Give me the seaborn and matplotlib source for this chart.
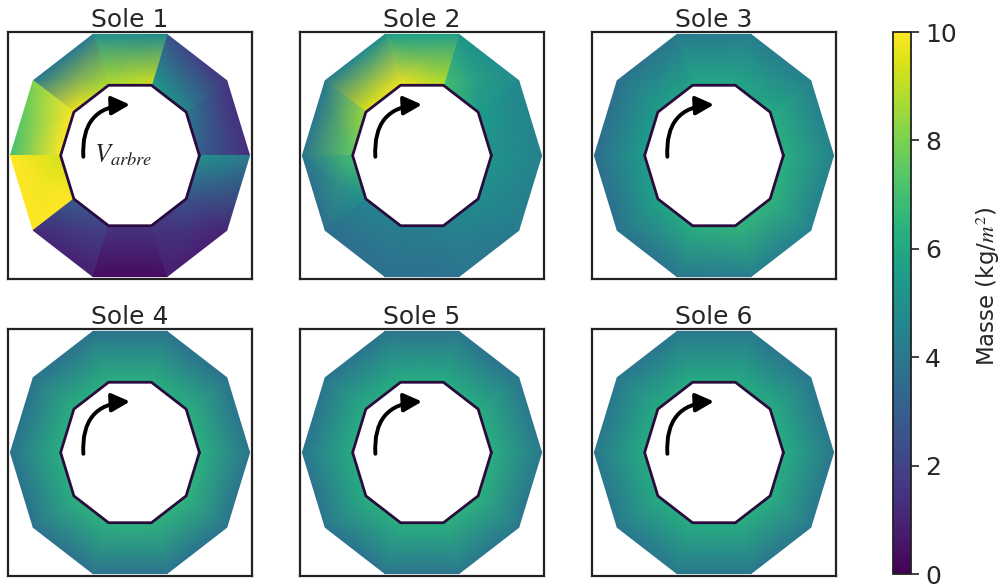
import numpy as np
import seaborn as sns
import matplotlib
matplotlib.use("Agg")
import matplotlib.pyplot as plt
from matplotlib.patches import FancyArrowPatch

# Mass (kg/m2) at the corners of each of the 10 ring segments.
# segment k spans 36k -> 36(k+1) degrees (CCW from the right vertex);
# each pair = (value at start angle, value at end angle)
sole1_inner = [(3.0, 4.0), (4.5, 5.5), (9.3, 8.8), (8.8, 9.8), (10, 10),
               (9.3, 10), (2.8, 2.0), (1.5, 1.5), (1.5, 2.5), (2.5, 5.0)]
sole1_outer = [(1.3, 1.5), (1.5, 2.5), (4.8, 5.0), (4.0, 4.0), (8.0, 7.0),
               (10, 10), (1.2, 0.8), (0.3, 0.3), (0.8, 1.0), (1.0, 4.2)]

sole2_inner = [(5.0, 5.5), (5.5, 7.0), (9.0, 9.8), (9.8, 9.5), (8.5, 7.5),
               (7.0, 5.0), (4.5, 4.3), (4.2, 4.3), (4.4, 4.8), (4.8, 5.2)]
sole2_outer = [(4.4, 4.6), (4.8, 5.2), (5.6, 5.6), (5.0, 4.2), (4.0, 3.9),
               (3.9, 3.6), (3.6, 3.6), (3.7, 3.8), (3.9, 4.1), (4.2, 4.4)]

sole3_inner = [(6.3, 6.2), (6.0, 6.0), (6.0, 6.0), (5.8, 5.6), (5.5, 5.5),
               (5.5, 5.7), (5.8, 6.2), (6.3, 6.5), (6.6, 6.5), (6.5, 6.3)]
sole3_outer = [(4.4, 4.4), (4.3, 4.2), (4.2, 4.1), (4.0, 3.8), (3.7, 3.6),
               (3.6, 3.7), (3.8, 3.9), (4.0, 4.2), (4.3, 4.4), (4.4, 4.4)]

sole4_inner = [(6.4, 6.4), (6.3, 6.3), (6.3, 6.3), (6.3, 6.3), (6.3, 6.3),
               (6.3, 6.3), (6.4, 6.4), (6.4, 6.4), (6.5, 6.5), (6.5, 6.4)]
sole4_outer = [(3.9, 3.9), (3.8, 3.8), (3.8, 3.8), (3.8, 3.8), (3.8, 3.8),
               (3.8, 3.8), (3.8, 3.8), (3.8, 3.8), (3.9, 3.9), (3.9, 3.9)]

sole5_inner = [(6.3, 6.3), (6.2, 6.2), (6.2, 6.2), (6.2, 6.2), (6.2, 6.2),
               (6.2, 6.2), (6.3, 6.3), (6.3, 6.3), (6.4, 6.4), (6.4, 6.3)]
sole5_outer = [(4.0, 4.0), (3.9, 3.9), (3.9, 3.9), (3.9, 3.9), (3.9, 3.9),
               (3.9, 3.9), (3.9, 3.9), (3.9, 3.9), (4.0, 4.0), (4.0, 4.0)]

sole6_inner = [(6.2, 6.2), (6.1, 6.1), (6.1, 6.1), (6.1, 6.1), (6.1, 6.1),
               (6.1, 6.1), (6.2, 6.2), (6.2, 6.2), (6.3, 6.3), (6.3, 6.2)]
sole6_outer = [(4.0, 4.0), (4.0, 4.0), (4.0, 4.0), (4.0, 4.0), (4.0, 4.0),
               (4.0, 4.0), (4.0, 4.0), (4.0, 4.0), (4.0, 4.0), (4.0, 4.0)]

titles = ["Sole 1", "Sole 2", "Sole 3", "Sole 4", "Sole 5", "Sole 6"]
inner_vals = [sole1_inner, sole2_inner, sole3_inner, sole4_inner, sole5_inner, sole6_inner]
outer_vals = [sole1_outer, sole2_outer, sole3_outer, sole4_outer, sole5_outer, sole6_outer]

r_in, r_out = 0.58, 1.0
n_seg = 10
vmin, vmax = 0, 10

sns.set_theme(style="white")
plt.rcParams["font.family"] = ["DejaVu Sans"]
plt.rcParams["mathtext.fontset"] = "stix"
cmap = sns.color_palette("viridis", as_cmap=True)

fig = plt.figure(figsize=(10.07, 5.87), dpi=100)
W, H = 1007, 587
lefts = [8, 300, 592]
tops = [32, 329]
aw, ah = 244, 247

ang = np.deg2rad(np.arange(n_seg + 1) * 360 / n_seg)

for i in range(6):
    row, col = divmod(i, 3)
    ax = fig.add_axes([lefts[col] / W, 1 - (tops[row] + ah) / H, aw / W, ah / H])
    for k in range(n_seg):
        a0, a1 = ang[k], ang[k + 1]
        X = np.array([[r_in * np.cos(a0), r_in * np.cos(a1)],
                      [r_out * np.cos(a0), r_out * np.cos(a1)]])
        Y = np.array([[r_in * np.sin(a0), r_in * np.sin(a1)],
                      [r_out * np.sin(a0), r_out * np.sin(a1)]])
        C = np.array([list(inner_vals[i][k]), list(outer_vals[i][k])])
        ax.pcolormesh(X, Y, C, shading="gouraud", cmap=cmap, vmin=vmin, vmax=vmax)
    ax.plot(r_in * np.cos(ang), r_in * np.sin(ang), color="#2a0b3d", lw=2)
    arrow = FancyArrowPatch((-0.39, -0.01), (0.0, 0.40),
                            connectionstyle="arc3,rad=-0.5",
                            arrowstyle="-|>,head_length=0.55,head_width=0.28",
                            mutation_scale=20, lw=2.8, color="black",
                            shrinkA=0, shrinkB=0)
    ax.add_patch(arrow)
    if i == 0:
        ax.text(-0.3, 0.0, r"$V_{arbre}$", fontsize=19, va="center", ha="left")
    ax.set_xlim(-1.02, 1.02)
    ax.set_ylim(-0.97, 0.97)
    ax.set_xticks([])
    ax.set_yticks([])
    for s in ax.spines.values():
        s.set_visible(True)
        s.set_color("#222222")
        s.set_linewidth(1.6)
    ax.set_title(titles[i], fontsize=18, pad=1)

cax = fig.add_axes([893 / W, 1 - 574 / H, 18 / W, 542 / H])
sm = matplotlib.cm.ScalarMappable(norm=matplotlib.colors.Normalize(vmin, vmax), cmap=cmap)
cb = fig.colorbar(sm, cax=cax)
cb.set_ticks([0, 2, 4, 6, 8, 10])
cb.ax.tick_params(labelsize=18, length=6, width=1.2, direction="out", right=True,
                  color="#222222", pad=4)
cb.outline.set_edgecolor("#222222")
cb.outline.set_linewidth(1.3)
cb.set_label("Masse (kg/$m^2$)", fontsize=16.5, labelpad=12)
cb.ax.yaxis.label.set_y(0.53)

fig.savefig("out.png", dpi=100)
